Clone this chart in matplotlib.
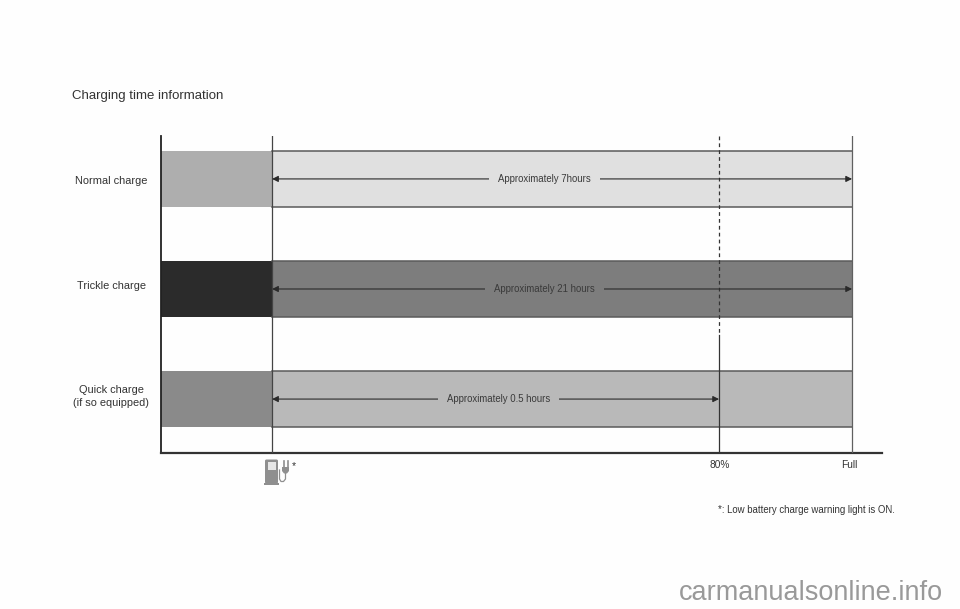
import matplotlib
matplotlib.use('Agg')
import matplotlib.pyplot as plt
from matplotlib.patches import Rectangle, Polygon, FancyBboxPatch

plt.rcParams['font.family'] = ['Liberation Sans', 'DejaVu Sans']

rows = ['Normal charge', 'Trickle charge', 'Quick charge\n(if so equipped)']
low_colors = ['#aeaeae', '#2b2b2b', '#8a8a8a']
main_colors = ['#e0e0e0', '#7d7d7d', '#b9b9b9']
ends = [100, 100, 80]
arrow_labels = ['Approximately 7hours', 'Approximately 21 hours', 'Approximately 0.5 hours']
low_level = 12.8
start_level = -3.9
tick_labels = ['80%', 'Full']
tick_levels = [80, 100]

fig = plt.figure(figsize=(9.6, 6.09), dpi=100, facecolor='#fefefe')

# axes box in pixels: x 161-882, y 136-453
ax = fig.add_axes([161 / 960, 1 - 453 / 609, 721 / 960, 317 / 609])
ax.set_xlim(start_level, 104.5)
ax.set_ylim(2.49, -0.39)
ax.patch.set_alpha(0)
ax.set_xticks([])
ax.set_yticks([])
for s in ['top', 'right']:
    ax.spines[s].set_visible(False)
ax.spines['left'].set_linewidth(1.3)
ax.spines['left'].set_color('#222222')
ax.spines['bottom'].set_linewidth(1.6)
ax.spines['bottom'].set_color('#333333')

h = 0.51
label_x = [53.8, 53.8, 46.8]
name_y = [0.015, 0.97, 1.98]
for i, name in enumerate(rows):
    ax.add_patch(Rectangle((start_level, i - h / 2), low_level - start_level, h,
                           fc=low_colors[i], ec='none', zorder=1))
    ax.add_patch(Rectangle((low_level, i - h / 2), 100 - low_level, h,
                           fc=main_colors[i], ec='none', zorder=1))
    ax.plot([low_level, 100], [i - h / 2, i - h / 2], color='#5a5a5a', lw=1.1, zorder=2)
    ax.plot([low_level, 100], [i + h / 2, i + h / 2], color='#5a5a5a', lw=1.1, zorder=2)
    ax.annotate('', xy=(low_level, i), xytext=(ends[i], i),
                arrowprops=dict(arrowstyle='<|-|>', color='#2a2a2a', lw=0.8,
                                mutation_scale=9, shrinkA=0, shrinkB=0), zorder=4)
    ax.text(label_x[i], i, arrow_labels[i], ha='center', va='center', fontsize=6.9,
            color='#3a3a3a', zorder=5,
            bbox=dict(fc=main_colors[i], ec='none', pad=6.5))
    ax.text(-11.4, name_y[i], name, ha='center', va='center',
            fontsize=7.9, color='#333333', linespacing=1.4, clip_on=False)

# vertical guides
ax.plot([low_level, low_level], [-0.39, 2.49], color='#444444', lw=0.9, zorder=3)
ax.plot([100, 100], [-0.39, 2.49], color='#606060', lw=0.9, zorder=3)
ax.plot([80, 80], [-0.39, 1.42], color='#333333', lw=0.9, ls=(0, (3, 2.5)), zorder=3)
ax.plot([80, 80], [1.42, 2.49], color='#333333', lw=0.9, zorder=3)

for lv, lab in zip(tick_levels, tick_labels):
    ax.text(lv - (0.45 if lab == 'Full' else -0.1), 2.595, lab, ha='center', va='center',
            fontsize=7.3, color='#333333')

fig.text(72 / 960, 1 - 96 / 609, 'Charging time information', fontsize=9.5,
         color='#333333', ha='left', va='center')
fig.text(895 / 960, 1 - 510 / 609, '*: Low battery charge warning light is ON.', fontsize=6.9,
         color='#333333', ha='right', va='center')
fig.text(291.5 / 960, 1 - 466 / 609, '*', fontsize=7.5, color='#333333', ha='left', va='center')
fig.text(943 / 960, 1 - 593 / 609, 'carmanualsonline.info', fontsize=19.5,
         color='#999999', ha='right', va='center')

# charge icon, in its own small pixel axes
icon = fig.add_axes([262 / 960, 1 - 486 / 609, 28 / 960, 28 / 609])
icon.set_xlim(262, 290)
icon.set_ylim(486, 458)
icon.axis('off')
gray = '#8f8f8f'
icon.add_patch(FancyBboxPatch((265, 459.5), 13, 24, boxstyle='round,pad=0,rounding_size=1.5',
                              fc=gray, ec='none'))
icon.add_patch(Rectangle((263.5, 483), 15.5, 2, fc=gray, ec='none'))
icon.add_patch(Rectangle((267.5, 462), 8, 8, fc='#e6e6e6', ec='none'))
icon.add_patch(Polygon([(282, 467), (289, 467), (289, 471), (287, 473.5), (284, 473.5), (282, 471)],
                       fc=gray, ec='none'))
icon.plot([283.5, 283.5], [461, 467], color=gray, lw=1.2)
icon.plot([287.5, 287.5], [461, 467], color=gray, lw=1.2)
icon.plot([285.5, 285.5, 283.5, 281, 279.5, 279.5], [473, 479, 481.5, 481.5, 479, 470], color=gray, lw=0.9)

fig.savefig('out.png', dpi=100, facecolor=fig.get_facecolor())
